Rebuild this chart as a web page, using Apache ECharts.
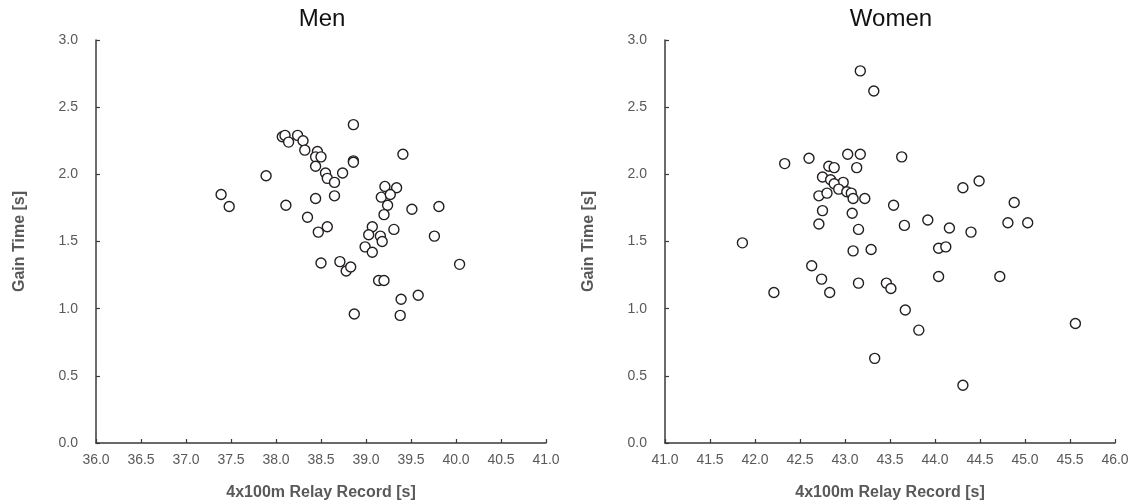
<!DOCTYPE html>
<html lang="en">
<head>
    <meta charset="UTF-8">
    <title>Gain time vs relay record</title>
    <script src="https://cdn.jsdelivr.net/npm/echarts@6/dist/echarts.min.js"></script>
</head>
<body style="margin: 0; background: #fff">
<div id="chart" style="width: 1129px; height: 501px"></div>

<script>
    // men: relay record [s] and gain time [s]
    let menRecord = [38.86, 38.07, 38.10, 38.14, 38.24, 38.30, 38.32, 38.46, 38.44, 38.50,
        38.44, 38.86, 38.86, 37.89, 38.55, 38.57, 38.65, 38.74, 37.39, 37.48,
        38.11, 38.44, 38.65, 38.35, 38.47, 38.57, 38.50, 38.71, 38.78, 38.83,
        38.87, 39.41, 39.21, 39.34, 39.17, 39.27, 39.24, 39.20, 39.51, 39.81,
        39.07, 39.03, 39.16, 39.18, 39.31, 38.99, 39.07, 39.76, 39.14, 39.20,
        40.04, 39.39, 39.58, 39.38];
    let menGain = [2.37, 2.28, 2.29, 2.24, 2.29, 2.25, 2.18, 2.17, 2.13, 2.13,
        2.06, 2.10, 2.09, 1.99, 2.01, 1.97, 1.94, 2.01, 1.85, 1.76,
        1.77, 1.82, 1.84, 1.68, 1.57, 1.61, 1.34, 1.35, 1.28, 1.31,
        0.96, 2.15, 1.91, 1.90, 1.83, 1.85, 1.77, 1.70, 1.74, 1.76,
        1.61, 1.55, 1.54, 1.50, 1.59, 1.46, 1.42, 1.54, 1.21, 1.21,
        1.33, 1.07, 1.10, 0.95];

    // women
    let womenRecord = [43.17, 43.32, 42.33, 42.60, 43.03, 43.17, 43.63, 42.82, 42.88, 43.13,
        42.75, 42.84, 42.98, 42.88, 42.93, 43.02, 43.07, 43.09, 42.71, 42.80,
        43.22, 42.75, 43.08, 42.71, 43.15, 43.54, 43.66, 41.86, 43.09, 43.29,
        42.63, 43.92, 42.74, 42.83, 42.21, 43.15, 43.46, 43.51, 43.67, 43.82,
        43.33, 44.49, 44.31, 44.88, 44.16, 44.40, 44.81, 45.03, 44.04, 44.12,
        44.04, 44.72, 45.56, 44.31];
    let womenGain = [2.77, 2.62, 2.08, 2.12, 2.15, 2.15, 2.13, 2.06, 2.05, 2.05,
        1.98, 1.96, 1.94, 1.93, 1.89, 1.87, 1.86, 1.82, 1.84, 1.86,
        1.82, 1.73, 1.71, 1.63, 1.59, 1.77, 1.62, 1.49, 1.43, 1.44,
        1.32, 1.66, 1.22, 1.12, 1.12, 1.19, 1.19, 1.15, 0.99, 0.84,
        0.63, 1.95, 1.90, 1.79, 1.60, 1.57, 1.64, 1.64, 1.45, 1.46,
        1.24, 1.24, 0.89, 0.43];

    let titles = ['Men', 'Women'];
    let xRanges = [[36, 41], [41, 46]];
    let yRange = [0, 3];
    let xName = '4x100m Relay Record [s]';
    let yName = 'Gain Time [s]';

    function pairs(xs, ys) {
        let temp = [];
        for (let i = 0; i < xs.length; i++) { temp.push([xs[i], ys[i]]) }
        return temp
    }

    let axisColor = '#3a3a3a';
    let labelColor = '#595959';
    let lefts = [96, 665];

    function xAxisFor(i) {
        return {
            gridIndex: i, type: 'value', min: xRanges[i][0], max: xRanges[i][1], interval: 0.5,
            name: xName, nameLocation: 'middle', nameGap: 42,
            nameTextStyle: {color: labelColor, fontSize: 16, fontWeight: 'bold', fontFamily: 'Liberation Sans'},
            axisLine: {show: true, lineStyle: {color: axisColor, width: 1.5}},
            axisTick: {show: true, inside: true, length: 4, lineStyle: {color: axisColor, width: 1.2}},
            axisLabel: {color: labelColor, fontSize: 14, margin: 10, fontFamily: 'Liberation Sans',
                formatter: function (v) { return v.toFixed(1) }},
            splitLine: {show: false}
        }
    }

    function yAxisFor(i) {
        return {
            gridIndex: i, type: 'value', min: yRange[0], max: yRange[1], interval: 0.5,
            name: yName, nameLocation: 'middle', nameGap: 68, nameRotate: 90,
            nameTextStyle: {color: labelColor, fontSize: 16, fontWeight: 'bold', fontFamily: 'Liberation Sans'},
            axisLine: {show: true, lineStyle: {color: axisColor, width: 1.5}},
            axisTick: {show: true, inside: true, length: 4, lineStyle: {color: axisColor, width: 1.2}},
            axisLabel: {color: labelColor, fontSize: 14, margin: 18, fontFamily: 'Liberation Sans',
                formatter: function (v) { return v.toFixed(1) }},
            splitLine: {show: false}
        }
    }

    function seriesFor(i, data) {
        return {
            type: 'scatter', xAxisIndex: i, yAxisIndex: i, data: data,
            symbol: 'circle', symbolSize: 10,
            itemStyle: {color: '#ffffff', borderColor: '#231f20', borderWidth: 1.4, opacity: 1},
            emphasis: {disabled: true}
        }
    }

    let myChart = echarts.init(document.getElementById('chart'), null, {renderer: 'canvas'});
    let option = {
        animation: false,
        backgroundColor: '#ffffff',
        title: titles.map(function (t, i) {
            return {
                text: t, left: lefts[i] + 221, top: 2, textAlign: 'center',
                textStyle: {color: '#111', fontSize: 24, fontWeight: 'normal', fontFamily: 'Liberation Sans'}
            }
        }),
        grid: [
            {left: lefts[0], width: 450, top: 40, bottom: 58, outerBoundsMode: 'none'},
            {left: lefts[1], width: 450, top: 40, bottom: 58, outerBoundsMode: 'none'}
        ],
        xAxis: [xAxisFor(0), xAxisFor(1)],
        yAxis: [yAxisFor(0), yAxisFor(1)],
        series: [
            seriesFor(0, pairs(menRecord, menGain)),
            seriesFor(1, pairs(womenRecord, womenGain))
        ]
    };
    myChart.setOption(option, true);
</script>
</body>
</html>
